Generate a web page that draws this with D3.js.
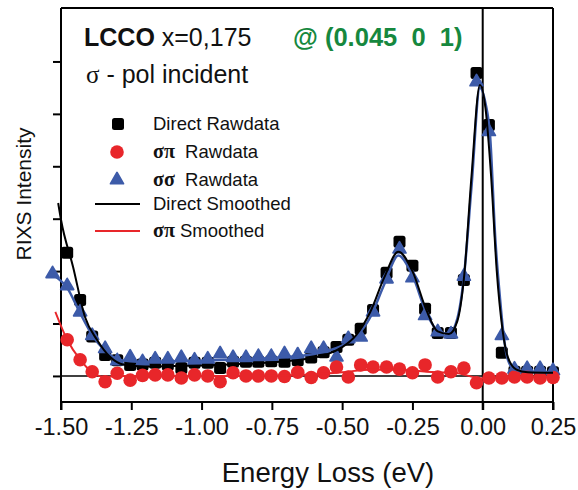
<!DOCTYPE html>
<html>
<head>
<meta charset="utf-8">
<script src="https://cdn.jsdelivr.net/npm/d3@7"></script>
<style>
  body { margin: 0; background: #fff; }
  svg { display: block; font-family: "Liberation Sans", Arial, sans-serif; }
  .pre { white-space: pre; }
</style>
</head>
<body>
<svg id="chart" width="578" height="490"></svg>
<script>
// energy grid of the raw spectra (eV)
var energy = [-1.478, -1.432, -1.389, -1.343, -1.300, -1.254, -1.210, -1.165, -1.120, -1.072,
  -1.025, -0.978, -0.934, -0.888, -0.842, -0.798, -0.752, -0.705, -0.658, -0.610,
  -0.566, -0.520, -0.478, -0.434, -0.390, -0.342, -0.296, -0.250, -0.205, -0.160,
  -0.113, -0.067, -0.022, 0.022, 0.068, 0.113, 0.158, 0.204, 0.250];

var directRaw = [2.35, 1.45, 0.75, 0.40, 0.30, 0.21, 0.22, 0.25, 0.22, 0.15,
  0.25, 0.25, 0.15, 0.27, 0.27, 0.27, 0.28, 0.27, 0.30, 0.35,
  0.45, 0.55, 0.69, 0.90, 1.26, 1.97, 2.56, 2.10, 1.28, 0.82,
  0.82, 1.83, 5.78, 4.79, 0.44, 0.08, 0.08, 0.08, 0.07];

var spRaw = [0.69, 0.31, 0.08, -0.11, 0.05, -0.08, 0.01, 0.02, 0.02, -0.04,
  0.02, 0.00, -0.11, 0.06, 0.00, 0.00, 0.00, -0.01, 0.07, -0.03,
  0.06, 0.17, -0.02, 0.21, 0.17, 0.17, 0.13, 0.06, 0.21, -0.02,
  0.08, 0.15, -0.13, -0.04, -0.04, -0.02, -0.02, -0.04, -0.03];

var ssEnergy = [-1.530].concat(energy);
var ssRaw = [1.93, 1.70, 1.20, 0.75, 0.50, 0.27, 0.34, 0.25, 0.30, 0.30, 0.33,
  0.28, 0.30, 0.40, 0.33, 0.33, 0.35, 0.35, 0.40, 0.38, 0.50,
  0.50, 0.34, 0.69, 0.72, 1.20, 1.83, 2.40, 1.85, 1.13, 0.82,
  0.78, 1.88, 5.59, 4.64, 0.75, 0.11, 0.12, 0.12, 0.08];

// smoothed curves
var directSmoothE = [-1.51, -1.50, -1.457, -1.415, -1.372, -1.325, -1.28, -1.20, -1.10, -1.00, -0.90, -0.80,
  -0.70, -0.60, -0.55, -0.50, -0.45, -0.40, -0.35, -0.30, -0.25, -0.20, -0.16, -0.12, -0.09,
  -0.067, -0.04, -0.01, 0.01, 0.03, 0.05, 0.07, 0.09, 0.12, 0.16, 0.25];
var directSmoothI = [3.30, 2.98, 2.08, 1.13, 0.69, 0.36, 0.22, 0.18, 0.19, 0.20, 0.22, 0.24,
  0.28, 0.35, 0.42, 0.55, 0.78, 1.22, 1.88, 2.37, 2.00, 1.25, 0.85, 0.80, 1.05,
  1.85, 3.80, 5.55, 5.10, 3.80, 2.00, 0.90, 0.35, 0.12, 0.07, 0.06];

var ssSmoothE = [-1.53, -1.478, -1.432, -1.389, -1.343, -1.30, -1.254, -1.20, -1.10, -1.00, -0.90, -0.80,
  -0.70, -0.60, -0.55, -0.50, -0.45, -0.40, -0.35, -0.30, -0.25, -0.20, -0.16, -0.12, -0.09,
  -0.067, -0.04, -0.01, 0.01, 0.026, 0.045, 0.062, 0.075, 0.09, 0.113, 0.16, 0.25];
var ssSmoothI = [1.93, 1.68, 1.20, 0.78, 0.48, 0.32, 0.28, 0.27, 0.28, 0.29, 0.31, 0.33,
  0.36, 0.42, 0.48, 0.58, 0.75, 1.12, 1.75, 2.30, 1.92, 1.20, 0.86, 0.80, 1.10,
  1.88, 3.60, 5.50, 5.20, 4.60, 2.60, 1.45, 0.75, 0.30, 0.12, 0.08, 0.07];

var spSmoothE = [-1.52, -1.478, -1.432, -1.389, -1.343, -1.30, -1.20, -1.00, -0.80, -0.60, -0.50,
  -0.40, -0.30, -0.20, -0.10, 0.00, 0.10, 0.25];
var spSmoothI = [1.22, 0.69, 0.31, 0.07, -0.02, 0.00, 0.00, 0.00, 0.00, 0.03, 0.07,
  0.12, 0.12, 0.08, 0.06, -0.05, -0.02, -0.02];

var xTicks = [-1.50, -1.25, -1.00, -0.75, -0.50, -0.25, 0.00, 0.25];
var yTicks = [0, 1, 2, 3, 4, 5, 6];

var BLACK = "#000", RED = "#e8262a", BLUE = "#3d5ba9", GREEN = "#16883e";

var svg = d3.select("#chart");

var x = d3.scaleLinear().domain([-1.5, 0.25]).range([61, 553]);
var y = d3.scaleLinear().domain([-0.65, 7.02]).range([410, 8]);

function zip(a, b) { return a.map(function (d, i) { return [d, b[i]]; }); }

// frame: top and right edges, vertical line at zero loss, zero intensity line
svg.append("line").attr("x1", x(-1.5)).attr("x2", x(0.25)).attr("y1", y.range()[1]).attr("y2", y.range()[1])
  .attr("stroke", BLACK).attr("stroke-width", 2);
svg.append("line").attr("x1", x(0.25)).attr("x2", x(0.25)).attr("y1", y.range()[1]).attr("y2", y.range()[0])
  .attr("stroke", BLACK).attr("stroke-width", 2);
svg.append("line").attr("x1", x(0)).attr("x2", x(0)).attr("y1", y.range()[1]).attr("y2", y.range()[0])
  .attr("stroke", BLACK).attr("stroke-width", 2);
svg.append("line").attr("x1", x(-1.5)).attr("x2", x(0.25)).attr("y1", y(0)).attr("y2", y(0))
  .attr("stroke", BLACK).attr("stroke-width", 1.6);

// axes
var xAxis = d3.axisBottom(x).tickValues(xTicks).tickSize(8).tickPadding(6)
  .tickFormat(function (d) { return d3.format(".2f")(d).replace("−", "-"); });
var gx = svg.append("g").attr("transform", "translate(0," + (y.range()[0] - 8) + ")").call(xAxis);
gx.select(".domain").attr("stroke-width", 2).attr("d", "M" + x(-1.5) + ",0H" + x(0.25));
gx.selectAll(".tick line").attr("stroke-width", 2);
gx.selectAll(".tick text").attr("font-size", 23.5).attr("font-family", "Liberation Sans, Arial, sans-serif")
  .attr("fill", "#111").attr("dy", "0.82em");

var yAxis = d3.axisLeft(y).tickValues(yTicks).tickSize(8).tickFormat("");
var gy = svg.append("g").attr("transform", "translate(" + x(-1.5) + ",0)").call(yAxis);
gy.select(".domain").attr("stroke-width", 2).attr("d", "M0," + y.range()[1] + "V" + y.range()[0]);
gy.selectAll(".tick line").attr("stroke-width", 2);

// axis titles
svg.append("text").attr("x", 328).attr("y", 482).attr("text-anchor", "middle")
  .attr("font-size", 27.5).attr("fill", "#111").text("Energy Loss (eV)");
svg.append("text").attr("transform", "translate(31,194) rotate(-90)").attr("text-anchor", "middle")
  .attr("font-size", 21).attr("fill", "#111").text("RIXS Intensity");

// markers
var sq = 12;
svg.append("g").selectAll("rect").data(zip(energy, directRaw)).join("rect")
  .attr("x", function (d) { return x(d[0]) - sq / 2; })
  .attr("y", function (d) { return y(d[1]) - sq / 2; })
  .attr("width", sq).attr("height", sq).attr("rx", 2.5).attr("fill", BLACK);

var tri = d3.symbol().type(d3.symbolTriangle).size(72);
svg.append("g").selectAll("path").data(zip(ssEnergy, ssRaw)).join("path")
  .attr("d", tri)
  .attr("transform", function (d) { return "translate(" + x(d[0]) + "," + (y(d[1]) - 1) + ")"; })
  .attr("fill", BLUE).attr("stroke", BLUE).attr("stroke-width", 1.8).attr("stroke-linejoin", "round");

svg.append("g").selectAll("circle").data(zip(energy, spRaw)).join("circle")
  .attr("cx", function (d) { return x(d[0]); })
  .attr("cy", function (d) { return y(d[1]); })
  .attr("r", 6.8).attr("fill", RED);

// smoothed lines
var line = d3.line().x(function (d) { return x(d[0]); }).y(function (d) { return y(d[1]); })
  .curve(d3.curveMonotoneX);
svg.append("path").datum(zip(ssSmoothE, ssSmoothI)).attr("d", line)
  .attr("fill", "none").attr("stroke", BLUE).attr("stroke-width", 2.5);
svg.append("path").datum(zip(directSmoothE, directSmoothI)).attr("d", line)
  .attr("fill", "none").attr("stroke", BLACK).attr("stroke-width", 2);
svg.append("path").datum(zip(spSmoothE, spSmoothI)).attr("d", line)
  .attr("fill", "none").attr("stroke", RED).attr("stroke-width", 2);

// annotation
var t1 = svg.append("text").attr("x", 84).attr("y", 46).attr("font-size", 25).attr("fill", "#111");
t1.append("tspan").attr("font-weight", "bold").text("LCCO");
t1.append("tspan").text(" x=0,175");
svg.append("text").attr("class", "pre").attr("x", 293).attr("y", 46).attr("font-size", 25.5)
  .attr("font-weight", "bold").attr("fill", GREEN).text("@ (0.045  0  1)");
var t2 = svg.append("text").attr("class", "pre").attr("x", 86).attr("y", 83).attr("font-size", 25).attr("fill", "#111");
t2.append("tspan").attr("font-family", "Liberation Serif, serif").text("σ");
t2.append("tspan").text(" - pol incident");

// legend
var legendY = [124, 152, 180, 204, 231];
var lg = svg.append("g");
lg.append("rect").attr("x", 118 - sq / 2).attr("y", legendY[0] - sq / 2).attr("width", sq).attr("height", sq)
  .attr("rx", 2.5).attr("fill", BLACK);
lg.append("circle").attr("cx", 117).attr("cy", legendY[1]).attr("r", 6.8).attr("fill", RED);
lg.append("path").attr("d", tri).attr("transform", "translate(117," + legendY[2] + ")")
  .attr("fill", BLUE).attr("stroke", BLUE).attr("stroke-width", 1.8).attr("stroke-linejoin", "round");
lg.append("line").attr("x1", 95).attr("x2", 140).attr("y1", legendY[3]).attr("y2", legendY[3])
  .attr("stroke", BLACK).attr("stroke-width", 2);
lg.append("line").attr("x1", 95).attr("x2", 140).attr("y1", legendY[4]).attr("y2", legendY[4])
  .attr("stroke", RED).attr("stroke-width", 2);

var legendItems = [
  { sym: "", label: "Direct Rawdata" },
  { sym: "σπ", label: "  Rawdata" },
  { sym: "σσ", label: "  Rawdata" },
  { sym: "", label: "Direct Smoothed" },
  { sym: "σπ", label: " Smoothed" }
];
legendItems.forEach(function (d, i) {
  var t = lg.append("text").attr("class", "pre").attr("x", 153).attr("y", legendY[i] + 6)
    .attr("font-size", 18.5).attr("fill", "#111");
  if (d.sym) {
    t.append("tspan").attr("font-family", "Liberation Serif, serif").attr("font-weight", "bold")
      .attr("font-size", 20).text(d.sym);
  }
  t.append("tspan").text(d.label);
});
</script>
</body>
</html>
